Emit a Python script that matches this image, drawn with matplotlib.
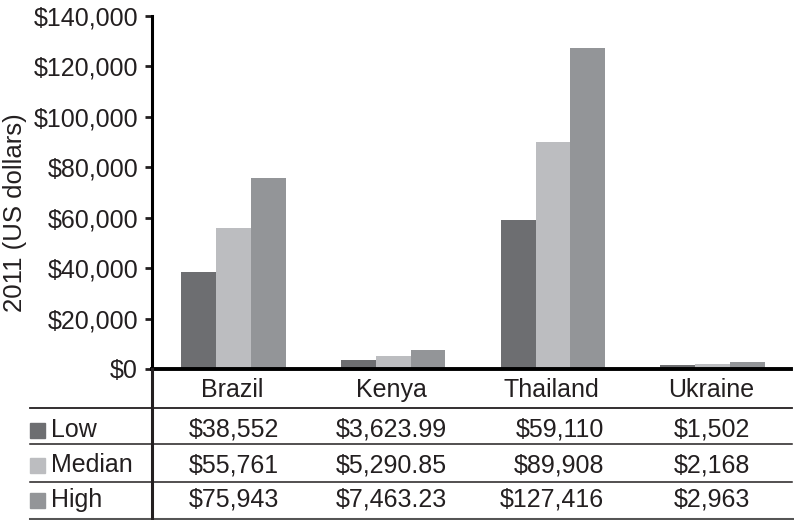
import matplotlib.pyplot as plt
import numpy as np
from matplotlib.transforms import blended_transform_factory, offset_copy
from matplotlib.lines import Line2D
from matplotlib.patches import Rectangle

plt.rcParams['font.family'] = ['Liberation Sans', 'DejaVu Sans']

countries = ['Brazil', 'Kenya', 'Thailand', 'Ukraine']
series = ['Low', 'Median', 'High']
low = [38552, 3623.99, 59110, 1502]
median = [55761, 5290.85, 89908, 2168]
high = [75943, 7463.23, 127416, 2963]
low_txt = ['$38,552', '$3,623.99', '$59,110', '$1,502']
median_txt = ['$55,761', '$5,290.85', '$89,908', '$2,168']
high_txt = ['$75,943', '$7,463.23', '$127,416', '$2,963']
colors = ['#6d6e71', '#bcbdc0', '#939598']

W, H = 794, 520
FS = 18
TXT = '#231f20'
fig = plt.figure(figsize=(W / 100, H / 100), dpi=100)
ax = fig.add_axes([152 / W, 1 - 369 / H, (791 - 152) / W, (369 - 16) / H])

x = np.arange(len(countries))
bw = 0.218
for i, vals in enumerate([low, median, high]):
    ax.bar(x + (i - 1) * bw + 0.01, vals, bw, color=colors[i], zorder=2)

ax.set_xlim(-0.5, len(countries) - 0.5)
ax.set_ylim(0, 140000)
ax.set_yticks(np.arange(0, 140001, 20000))
ax.set_yticklabels(['$0'] + ['${:,}'.format(v) for v in range(20000, 140001, 20000)])
ax.set_xticks([])
for s in ['top', 'right']:
    ax.spines[s].set_visible(False)
ax.spines['left'].set_linewidth(2.2)
ax.spines['bottom'].set_linewidth(2.8)
ax.tick_params(axis='y', length=5, width=2, labelsize=FS, pad=5, colors=TXT)

fig.text(15 / W, 1 - 213 / H, '2011 (US dollars)', rotation=90, fontsize=18.5,
         ha='center', va='center', color=TXT)

# data table under the axes
tr = blended_transform_factory(ax.transData, fig.transFigure)
fy = lambda py: 1 - py / H
for j, c in enumerate(countries):
    fig.text(x[j], fy(390), c, transform=tr, ha='center', va='center', fontsize=FS, color=TXT)

rows_y = [430, 465, 500]
aligns = ['center', 'center', 'right', 'center']
offs = [2, 0, 53, 1]
for r, (name, txts) in enumerate(zip(series, [low_txt, median_txt, high_txt])):
    fig.patches.append(Rectangle((30 / W, fy(rows_y[r] + 7.5)), 15 / W, 15 / H,
                                 transform=fig.transFigure, color=colors[r]))
    fig.text(51 / W, fy(rows_y[r]), name, ha='left', va='center', fontsize=FS, color=TXT)
    for j, t in enumerate(txts):
        ttr = offset_copy(tr, fig=fig, x=offs[j], y=0, units='dots')
        fig.text(x[j], fy(rows_y[r]), t, transform=ttr, ha=aligns[j], va='center',
                 fontsize=FS, color=TXT)

for py, lw, col in [(408, 1.3, TXT), (444, 1.1, TXT), (482, 1.1, TXT), (518.5, 2.2, '#555555')]:
    fig.add_artist(Line2D([30 / W, 792 / W], [fy(py), fy(py)], lw=lw, color=col))
fig.add_artist(Line2D([152 / W, 152 / W], [fy(369), fy(519)], lw=2.2, color=TXT))

fig.savefig('out.png', dpi=100)
